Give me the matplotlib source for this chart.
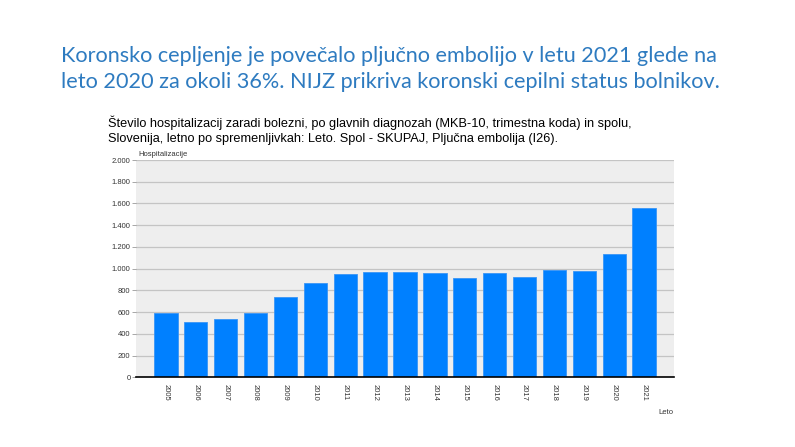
import matplotlib
matplotlib.use("Agg")
import matplotlib.pyplot as plt
from matplotlib.ticker import FuncFormatter

years = [str(y) for y in range(2005, 2022)]
hospitalizations = [594, 512, 536, 589, 742, 865, 947, 966, 969, 957, 913, 957, 922, 990, 978, 1137, 1561]
y_ticks = [0, 200, 400, 600, 800, 1000, 1200, 1400, 1600, 1800, 2000]

headline_lines = ["Koronsko cepljenje je povečalo pljučno embolijo v letu 2021 glede na",
                  "leto 2020 za okoli 36%. NIJZ prikriva koronski cepilni status bolnikov."]
title_lines = ["Število hospitalizacij zaradi bolezni, po glavnih diagnozah (MKB-10, trimestna koda) in spolu,",
               "Slovenija, letno po spremenljivkah: Leto. Spol - SKUPAJ, Pljučna embolija (I26)."]

W, H = 795, 447
fig = plt.figure(figsize=(W / 100, H / 100), dpi=100)
fig.patch.set_facecolor("white")

for line, base in zip(headline_lines, [62, 88]):
    fig.text(61 / W, 1 - base / H, line, family="Lato", fontsize=15.6, color="#2E7BC0",
             va="baseline", ha="left")
for line, base in zip(title_lines, [127, 142]):
    fig.text(108 / W, 1 - base / H, line, family="Liberation Sans", fontsize=9.15,
             color="black", va="baseline", ha="left")

ax = fig.add_axes([136 / W, 1 - 377.3 / H, 538 / W, 217.3 / H])
ax.set_facecolor("#EEEEEE")
x = list(range(len(years)))
ax.bar(x, hospitalizations, width=0.78, color="#0080FF", edgecolor="#3A95F5", linewidth=0.6, zorder=3)
ax.set_xlim(-1, 17)
ax.set_ylim(0, 2000)
ax.set_yticks(y_ticks)
ax.yaxis.set_major_formatter(FuncFormatter(lambda v, p: f"{int(v):,}".replace(",", ".")))
ax.grid(axis="y", color="#C4C4C4", linewidth=0.9, zorder=1)
ax.set_xticks(x)
ax.set_xticklabels(years, rotation=-90, family="Liberation Sans", fontsize=5.5, color="#333333")
for lab in ax.get_yticklabels():
    lab.set_family("Liberation Sans")
    lab.set_fontsize(5.5)
    lab.set_color("#333333")
ax.tick_params(axis="x", length=0, pad=5)
ax.tick_params(axis="y", length=3, width=0.6, color="#999999", pad=1)
for s in ["left", "right", "top"]:
    ax.spines[s].set_visible(False)
ax.spines["bottom"].set_color("black")
ax.spines["bottom"].set_linewidth(1.2)
ax.spines["bottom"].set_zorder(4)

fig.text(138 / W, 1 - 155 / H, "Hospitalizacije", family="Liberation Sans", fontsize=5.5,
         color="#333333", va="center", ha="left")
fig.text(658 / W, 1 - 412 / H, "Leto", family="Liberation Sans", fontsize=5.5,
         color="#333333", va="center", ha="left")

fig.savefig("out.png", dpi=100, facecolor="white")
